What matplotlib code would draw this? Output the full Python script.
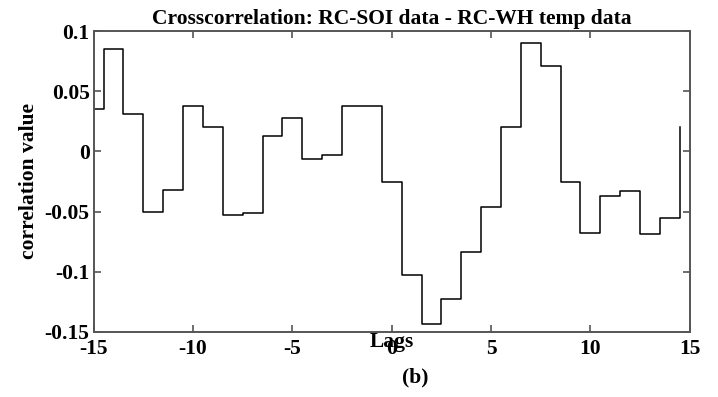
import numpy as np
import matplotlib
matplotlib.use("Agg")
import matplotlib.pyplot as plt

# cross-correlation values at lags -15..15
lags = np.arange(-15, 16)
corr = [0.035, 0.085, 0.031, -0.050, -0.032, 0.0375, 0.0205, -0.053, -0.0514, 0.013,
        0.028, -0.0067, -0.0028, 0.0375, 0.0375, -0.0253, -0.1028, -0.144, -0.123, -0.0833,
        -0.0464, 0.0205, 0.0905, 0.0711, -0.0253, -0.068, -0.0372, -0.0328, -0.0686, -0.0553,
        0.0205]
xticks = [-15, -10, -5, 0, 5, 10, 15]
yticks = [-0.15, -0.1, -0.05, 0, 0.05, 0.1]

plt.rcParams['font.family'] = ['Liberation Serif', 'DejaVu Serif']
plt.rcParams['font.weight'] = 'bold'

fig = plt.figure(figsize=(7.18, 3.97), dpi=100)
ax = fig.add_axes([0.1305, 0.1645, 0.8301, 0.7567])

# matlab-style stairs: edges at lag - 0.5
ax.step(lags - 0.5, corr, where='post', color='black', lw=1.1)

ax.set_xlim(-15, 15)
ax.set_ylim(-0.15, 0.1)
ax.set_xticks(xticks)
ax.set_xticklabels([str(t) for t in xticks])
ax.set_yticks(yticks)
ax.set_yticklabels(['-0.15', '-0.1', '-0.05', '0', '0.05', '0.1'])
ax.tick_params(direction='in', top=True, right=True, length=5, width=1.2,
               color='#555555', labelsize=15.5)
ax.tick_params(axis='x', pad=5)
ax.tick_params(axis='y', pad=3)
for s in ax.spines.values():
    s.set_color('#555555')
    s.set_linewidth(1.4)

ax.set_title('Crosscorrelation: RC-SOI data - RC-WH temp data', fontsize=15.5,
             fontweight='bold', pad=5)
ax.set_ylabel('correlation value', fontsize=15.5, fontweight='bold', labelpad=4)
ax.set_xlabel('Lags', fontsize=15.5, fontweight='bold', labelpad=-19)
fig.text(0.579, 0.048, '(b)', fontsize=15.5, fontweight='bold', ha='center', va='center')

fig.savefig('out.png', dpi=100)
